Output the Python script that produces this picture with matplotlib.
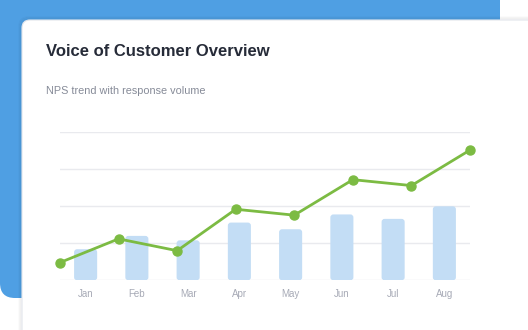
#
# Imports
#
from matplotlib import pyplot as plt
from matplotlib.patches import FancyBboxPatch
import numpy as np


#
# Data
#
months = ['Jan', 'Feb', 'Mar', 'Apr', 'May', 'Jun', 'Jul', 'Aug']
nps = [12, 28, 20, 48, 44, 68, 64, 88]
responses = [420, 600, 540, 780, 690, 890, 830, 1000]

title = 'Voice of Customer Overview'
subtitle = 'NPS trend with response volume'

# colours
c_back = '#4F9FE3'
c_bar = '#C3DDF5'
c_line = '#7CBB43'
c_grid = '#E9EAEE'
c_tick = '#A7AAB6'

plt.rcParams['font.family'] = ['Liberation Sans', 'DejaVu Sans']


#
# main
#
if __name__ == "__main__":
    fig = plt.figure(figsize=(5.28, 3.3), dpi=100)
    fig.patch.set_facecolor('white')

    # decoration layer in pixel coordinates
    deco = fig.add_axes([0, 0, 1, 1])
    deco.set_xlim(0, 528)
    deco.set_ylim(330, 0)
    deco.axis('off')
    deco.add_patch(FancyBboxPatch((0, -20), 500, 318,
                                  boxstyle='round,pad=0,rounding_size=15',
                                  fc=c_back, ec='none'))
    # soft shadow
    for k, a in enumerate([0.04, 0.03, 0.02]):
        deco.add_patch(FancyBboxPatch((22 - k - 1, 20 - k - 1), 560, 340,
                                      boxstyle='round,pad=0,rounding_size=9',
                                      fc='none', ec=(0, 0, 0, a), lw=1.2))
    deco.add_patch(FancyBboxPatch((22, 20), 560, 340,
                                  boxstyle='round,pad=0,rounding_size=8',
                                  fc='white', ec='#E2E5EB', lw=0.8))
    deco.text(46, 52, title, fontsize=12, fontweight='bold',
              color='#262B38', va='center', ha='left')
    deco.text(46, 91, subtitle, fontsize=7.8, color='#868B98',
              va='center', ha='left')

    # chart
    x = np.arange(len(months))
    ax = fig.add_axes([60 / 528, 1 - 280.3 / 330, 410 / 528, 148 / 330])
    ax.set_facecolor('none')
    ax.set_xlim(0, len(months))
    ax.set_ylim(0, 2000)
    ax.set_yticks(np.linspace(0, 2000, 5))
    ax.grid(axis='y', color=c_grid, lw=1)
    ax.set_axisbelow(True)
    for s in ax.spines.values():
        s.set_visible(False)
    ax.set_xticks(x + 0.5)
    ax.set_xticklabels(months)
    ax.tick_params(axis='x', length=0, pad=6, labelsize=7, labelcolor=c_tick)
    ax.tick_params(axis='y', length=0, labelleft=False)

    # rounded bars
    bw = 0.45
    xpx = len(months) / 410
    ypx = 2000 / 148
    for xi, v in zip(x + 0.5, responses):
        ax.add_patch(FancyBboxPatch((xi - bw / 2, 0), bw, v,
                                    boxstyle='round,pad=0,rounding_size=%f' % (3 * xpx),
                                    mutation_aspect=ypx / xpx,
                                    fc=c_bar, ec='none', zorder=2))

    # NPS line, points on category boundaries
    ax2 = ax.twinx()
    ax2.set_ylim(0, 100)
    ax2.axis('off')
    xl = x * len(months) / (len(months) - 1)
    ax2.plot(xl, nps, '-o', color=c_line, lw=2, ms=6.5, clip_on=False)

    fig.savefig('out.png', dpi=100)
